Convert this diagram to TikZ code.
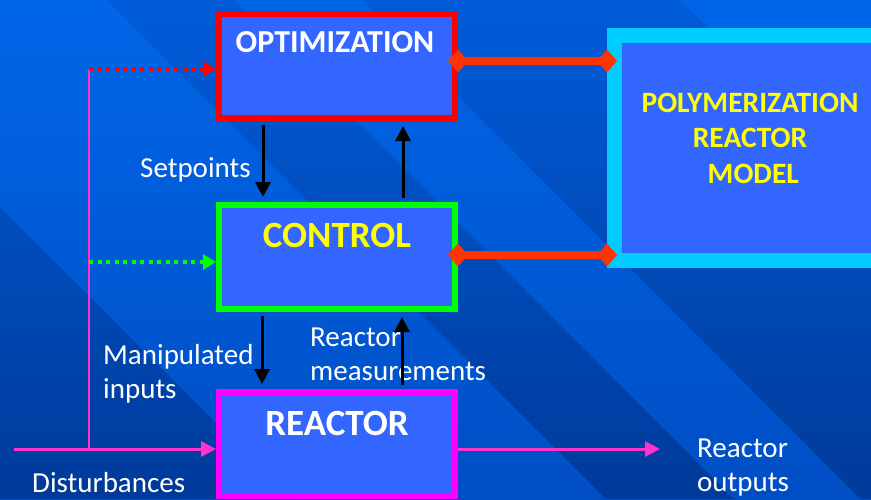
\documentclass[tikz,border=0pt]{standalone}
\usepackage{fontspec}
\setmainfont{Carlito}
\usetikzlibrary{arrows.meta}

\definecolor{lighttop}{HTML}{0066E8}
\definecolor{lightbot}{HTML}{004EC4}
\definecolor{darktop}{HTML}{005CD9}
\definecolor{darkbot}{HTML}{003A9A}
\definecolor{boxblue}{HTML}{3366FF}
\definecolor{optred}{HTML}{FF0000}
\definecolor{ctrlgreen}{HTML}{00FF00}
\definecolor{reacpink}{HTML}{FF00FF}
\definecolor{modelcyan}{HTML}{00CCFF}
\definecolor{linkred}{HTML}{FF3300}
\definecolor{wirepink}{HTML}{FF33CC}
\definecolor{titleyellow}{HTML}{FFFF00}

\begin{document}
\begin{tikzpicture}[x=1pt, y=-1pt, line join=miter,
    block/.style={rectangle, fill=boxblue, line width=6pt,
                  minimum width=236pt, minimum height=104pt, inner sep=0pt},
    head/.style={font=\bfseries\fontsize{32}{37}\selectfont, text=white, anchor=base, inner sep=0pt},
    lbl/.style={font=\fontsize{29}{34}\selectfont, text=white, align=left,
                anchor=base west, inner sep=0pt},
    sig/.style={line width=3pt, -{Triangle[length=15pt,width=15pt]},
                shorten <=4pt, shorten >=5pt},
    wire/.style={wirepink, line width=3pt},
    feed/.style={wire, -{Triangle[length=15pt,width=15pt]}},
    dots/.style={line width=4pt, dash pattern=on 4pt off 4.5pt,
                 -{Triangle[length=13pt,width=15pt]}},
    link/.style={linkred, line width=8pt,
                 {Diamond[length=20pt,width=23pt]}-{Diamond[length=20pt,width=23pt]},
                 shorten <=-10pt, shorten >=-10pt}]
  \useasboundingbox (0,0) rectangle (871,499);

  % Background: light gradient with darker diagonal bands
  \shade[top color=lighttop, bottom color=lightbot] (0,0) rectangle (871,499);
  \begin{scope}
    \clip (0,207) -- (292,499) -- (0,499) -- cycle
          (107,0) -- (235,0) -- (734,499) -- (606,499) -- cycle
          (362,0) -- (680,0) -- (871,191) -- (871,499) -- (861,499) -- cycle;
    \shade[top color=darktop, bottom color=darkbot] (0,0) rectangle (871,499);
  \end{scope}

  % The three stacked blocks
  \foreach \nm/\yy/\clr in {opt/66/optred, ctrl/257/ctrlgreen, reac/444/reacpink}
    \node[block, draw=\clr] (\nm) at (337,\yy) {};

  % Model block, partly off the right edge
  \node[block, draw=modelcyan, line width=15pt,
        minimum width=271pt, minimum height=225pt] (model) at (750,148) {};

  % Block titles (multi-line nodes sit on their last baseline)
  \node[head] (opttitle) at (335,52) {OPTIMIZATION};
  \node[head, text=titleyellow, font=\bfseries\fontsize{37}{40}\selectfont]
    (ctrltitle) at (337,247) {CONTROL};
  \node[head, font=\bfseries\fontsize{37}{40}\selectfont]
    (reactitle) at (337,435) {REACTOR};
  \node[head, text=titleyellow, align=center,
        font=\bfseries\fontsize{29.5}{35.5}\selectfont]
    (modeltitle) at (750,183) {POLYMERIZATION\\REACTOR\\\ MODEL};

  % Labels (under the arrows)
  \node[lbl] (setpts) at (140,177) {Setpoints};
  \node[lbl] (manip) at (103,398) {Manipulated\\inputs};
  \node[lbl] (meas) at (310,380) {Reactor\\measurements};
  \node[lbl] (disturb) at (32,492) {Disturbances};
  \node[lbl] (outputs) at (697,491) {Reactor\\outputs};

  % Signals between the blocks
  \draw[sig] ([xshift=-74pt]opt.south) -- ([xshift=-74pt]opt.south |- ctrl.north);
  \draw[sig] ([xshift=66pt]ctrl.north) -- ([xshift=66pt]ctrl.north |- opt.south);
  \draw[sig] ([xshift=-75pt]ctrl.south) -- ([xshift=-75pt]ctrl.south |- reac.north);
  \draw[sig] ([xshift=65pt]reac.north) -- ([xshift=65pt]reac.north |- ctrl.south);

  % Links to the model
  \draw[link] ([yshift=5pt]opt.east) -- ([yshift=5pt]opt.east -| model.west);
  \draw[link] ([yshift=2pt]ctrl.east) -- ([yshift=2pt]ctrl.east -| model.west);

  % Disturbances in, outputs out
  \coordinate (dist) at (14,449);
  \coordinate (tap) at (89,449);
  \coordinate (tapopt) at (89,69);
  \coordinate (tapctrl) at (89,262);
  \coordinate (out) at (660,449);
  \draw[feed] (dist) -- (reac.west |- dist);
  \draw[wire, line width=2pt] (tap) -- (tapopt);
  \draw[dots, optred] (tapopt) -- (opt.west |- tapopt);
  \draw[dots, ctrlgreen] (tapctrl) -- (ctrl.west |- tapctrl);
  \draw[feed] (reac.east |- out) -- (out);
\end{tikzpicture}
\end{document}
